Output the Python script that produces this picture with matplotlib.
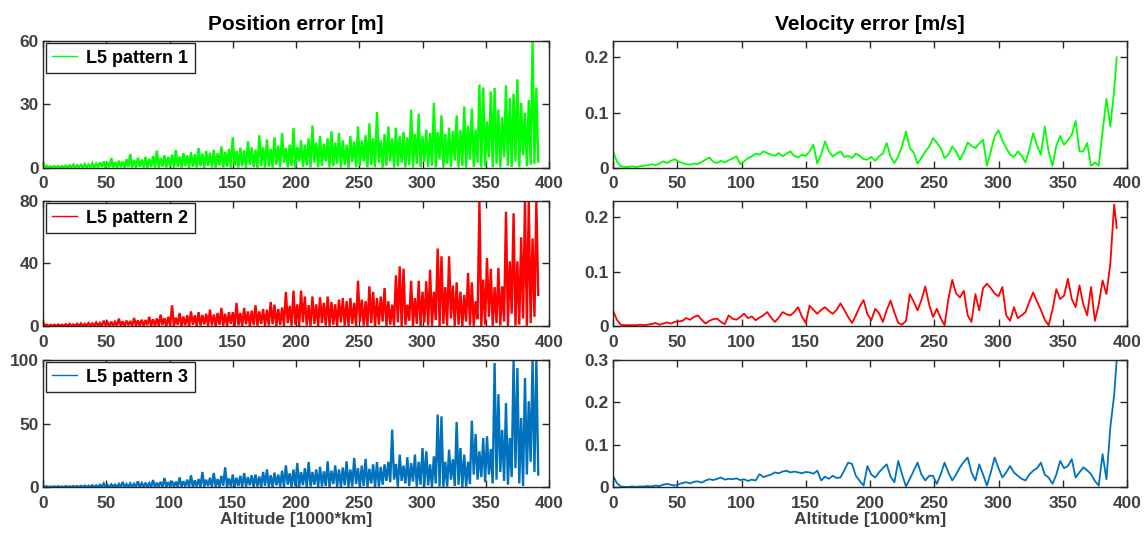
import numpy as np
import matplotlib
matplotlib.use("Agg")
import matplotlib.pyplot as plt

plt.rcParams['font.family'] = ['Liberation Sans', 'DejaVu Sans']
plt.rcParams['font.weight'] = 'bold'

# ---------------- data ----------------
# altitude grid [1000*km], one sample every 3 units
altitude = np.arange(0, 391, 3)
vel_alt = np.append(altitude, 392)

# position error: local maxima (at grid) and local minima (half step later)
pos1_peaks = [2.4, 1.0, 0.8, 0.9, 1.0, 0.9, 1.1, 1.2, 1.6, 1.3,
              1.5, 1.8, 1.6, 2.2, 2.0, 2.6, 3.1, 2.4, 4.7, 2.8,
              3.4, 3.0, 4.2, 6.6, 3.6, 4.8, 4.0, 5.2, 4.4, 5.6,
              8.2, 4.8, 6.0, 5.2, 6.3, 8.5, 5.4, 7.0, 6.0, 7.4,
              6.5, 9.4, 6.8, 8.0, 7.2, 8.6, 7.0, 10.2, 7.6, 9.0,
              14.5, 8.0, 9.6, 8.4, 12.6, 9.7, 8.6, 15.4, 9.8, 13.4,
              9.0, 14.5, 10.5, 16.5, 9.5, 11.0, 18.9, 10.0, 13.0, 11.0,
              14.0, 20.0, 12.0, 15.0, 11.5, 14.0, 17.3, 12.0, 16.5, 13.0,
              11.0, 15.0, 12.5, 19.6, 13.0, 15.5, 21.0, 14.0, 26.4, 13.0,
              16.0, 19.6, 14.0, 19.0, 15.0, 17.0, 14.5, 27.5, 16.0, 25.5,
              15.0, 18.0, 16.5, 30.7, 17.0, 24.8, 16.0, 19.0, 17.5, 24.8,
              18.0, 29.0, 20.0, 28.0, 18.0, 39.3, 38.0, 22.0, 36.0, 37.7,
              27.5, 24.0, 39.0, 33.0, 35.0, 41.8, 30.7, 26.0, 32.0, 60.0,
              37.7]
pos1_troughs = [0.5, 0.2, 0.2, 0.3, 0.2, 0.3, 0.2, 0.3, 0.2, 0.3,
                0.3, 0.2, 0.4, 0.2, 0.3, 0.5, 0.2, 0.4, 0.3, 0.2,
                0.4, 0.2, 0.5, 0.3, 0.2, 0.6, 0.3, 0.2, 0.5, 0.3,
                0.2, 0.6, 0.3, 0.8, 0.2, 0.5, 0.3, 0.9, 0.2, 0.6,
                0.3, 0.8, 0.2, 1.0, 0.4, 0.2, 1.2, 0.3, 0.6, 0.2,
                1.0, 0.3, 0.8, 0.2, 1.5, 0.4, 0.2, 1.0, 0.3, 0.6,
                0.2, 1.5, 0.4, 2.5, 0.3, 1.0, 0.2, 3.0, 0.5, 1.2,
                0.3, 2.5, 0.4, 1.0, 3.0, 0.3, 0.8, 2.0, 0.3, 1.5,
                0.2, 2.8, 0.5, 1.0, 3.0, 0.3, 1.5, 0.4, 2.5, 0.2,
                1.0, 3.0, 0.3, 0.8, 2.5, 0.3, 1.5, 0.2, 2.0, 0.4,
                3.0, 0.5, 1.0, 0.3, 4.0, 0.2, 2.0, 0.5, 3.5, 0.3,
                1.0, 0.2, 4.0, 0.5, 2.5, 0.3, 0.8, 5.0, 0.4, 2.0,
                0.3, 5.0, 1.0, 0.5, 3.0, 0.3, 6.0, 0.8, 1.5, 2.0,
                3.0]

pos2_peaks = [2.8, 1.0, 0.9, 1.0, 1.1, 1.0, 1.3, 1.5, 1.2, 1.6,
              1.8, 1.5, 2.0, 1.8, 2.4, 2.1, 3.6, 2.5, 3.0, 2.8,
              4.9, 3.2, 3.6, 3.4, 5.3, 3.8, 4.2, 4.0, 6.0, 4.5,
              5.0, 7.4, 5.2, 6.0, 13.4, 5.5, 8.5, 6.2, 7.0, 9.5,
              7.0, 9.0, 7.2, 8.0, 10.6, 7.5, 8.5, 11.7, 8.0, 9.0,
              9.0, 14.9, 8.5, 11.7, 9.5, 10.0, 13.4, 9.5, 11.0, 10.6,
              15.5, 13.8, 11.0, 12.0, 21.9, 13.0, 22.7, 14.0, 22.7, 19.0,
              13.5, 19.0, 14.0, 18.5, 15.0, 19.0, 15.5, 14.0, 17.0, 18.0,
              16.0, 18.0, 15.0, 29.0, 17.0, 16.0, 25.5, 21.9, 18.0, 19.0,
              24.4, 16.0, 13.8, 32.5, 38.2, 36.7, 13.8, 29.0, 18.0, 29.0,
              22.0, 28.7, 36.0, 22.0, 49.5, 44.6, 25.0, 44.6, 26.0, 28.0,
              22.0, 20.0, 34.0, 28.0, 16.0, 80.0, 29.7, 43.5, 36.7, 25.0,
              37.2, 25.5, 73.0, 41.4, 72.0, 41.4, 56.7, 80.0, 80.0, 56.0,
              80.0]
pos2_troughs = [0.4, 0.2, 0.3, 0.2, 0.3, 0.2, 0.3, 0.2, 0.2, 0.3,
                0.2, 0.3, 0.4, 0.2, 0.3, 0.2, 0.5, 0.3, 0.2, 0.4,
                0.3, 0.2, 0.6, 0.3, 0.2, 0.4, 0.3, 0.7, 0.2, 0.4,
                0.3, 0.8, 0.2, 0.5, 0.3, 0.9, 0.2, 0.6, 0.3, 1.0,
                0.2, 0.5, 1.2, 0.3, 0.6, 0.2, 1.0, 0.4, 0.3, 1.5,
                0.2, 0.6, 0.3, 1.2, 0.2, 0.8, 0.4, 1.5, 0.3, 0.5,
                1.2, 0.2, 0.8, 0.3, 2.0, 0.4, 1.0, 0.2, 2.5, 0.5,
                0.3, 1.5, 0.2, 2.0, 0.5, 0.3, 1.0, 0.2, 2.5, 0.4,
                0.3, 1.5, 0.2, 3.0, 0.5, 0.3, 2.0, 0.2, 1.0, 3.0,
                0.3, 1.0, 0.4, 2.5, 0.2, 0.8, 3.5, 0.3, 1.5, 0.2,
                2.5, 0.5, 0.3, 4.0, 0.2, 1.5, 0.4, 5.0, 0.3, 1.0,
                0.2, 3.0, 0.5, 0.3, 4.5, 0.2, 1.0, 6.0, 0.3, 2.0,
                0.5, 3.0, 0.2, 8.0, 0.4, 1.0, 5.0, 0.3, 2.0, 6.0,
                20.0]

pos3_peaks = [1.5, 0.8, 0.6, 0.7, 0.8, 0.6, 0.9, 0.8, 1.0, 0.9,
              1.1, 1.3, 1.2, 1.6, 1.4, 1.9, 3.0, 1.8, 2.3, 2.1,
              2.6, 4.2, 2.5, 3.0, 2.8, 4.7, 3.2, 3.6, 3.3, 5.7,
              3.6, 4.3, 7.3, 4.0, 5.0, 4.4, 7.8, 4.8, 6.0, 9.4,
              5.5, 6.5, 12.0, 6.0, 7.5, 11.2, 6.5, 9.0, 15.7, 7.0,
              10.0, 7.5, 9.0, 11.2, 8.0, 9.5, 10.0, 8.5, 12.0, 14.0,
              9.5, 11.5, 10.0, 13.0, 17.2, 11.0, 14.0, 19.0, 12.0, 15.0,
              19.8, 12.0, 14.0, 16.0, 12.5, 20.4, 13.0, 17.2, 14.0, 15.5,
              20.4, 14.0, 23.0, 15.0, 17.0, 22.2, 14.5, 18.0, 19.8, 16.0,
              18.0, 20.0, 45.2, 18.3, 25.6, 17.0, 23.5, 19.0, 25.6, 20.0,
              30.8, 28.2, 18.0, 24.3, 57.0, 55.6, 20.0, 29.5, 22.0, 51.2,
              30.8, 25.6, 20.0, 52.2, 41.8, 28.2, 38.6, 40.0, 30.0, 97.4,
              73.0, 45.0, 66.0, 38.6, 100.0, 93.5, 54.3, 85.6, 67.4, 100.0,
              100.0]
pos3_troughs = [0.3, 0.1, 0.2, 0.1, 0.2, 0.1, 0.2, 0.1, 0.2, 0.1,
                0.2, 0.1, 0.3, 0.2, 0.1, 0.3, 0.2, 0.1, 0.3, 0.2,
                0.3, 0.1, 0.4, 0.2, 0.3, 0.1, 0.5, 0.2, 0.3, 0.1,
                0.5, 0.2, 0.3, 0.6, 0.1, 0.4, 0.2, 0.7, 0.3, 0.1,
                0.6, 0.2, 0.4, 1.0, 0.2, 0.5, 0.3, 1.2, 0.2, 0.6,
                0.3, 1.0, 0.2, 0.5, 1.5, 0.3, 0.6, 0.2, 1.2, 0.4,
                0.2, 1.5, 0.5, 0.3, 2.0, 0.2, 0.8, 0.3, 1.5, 0.2,
                0.6, 2.0, 0.3, 0.5, 1.0, 0.2, 2.5, 0.4, 0.3, 1.5,
                0.3, 0.6, 2.5, 0.2, 1.0, 0.4, 3.0, 0.3, 0.5, 2.0,
                5.0, 4.0, 6.0, 0.5, 5.0, 3.0, 1.0, 4.5, 0.5, 2.0,
                0.5, 1.5, 0.3, 3.0, 0.5, 0.3, 0.5, 6.0, 1.0, 2.0,
                0.3, 0.5, 2.5, 10.0, 6.0, 8.0, 4.0, 10.0, 3.0, 6.0,
                12.0, 5.0, 2.0, 8.0, 15.0, 3.0, 1.0, 10.0, 20.0, 12.0,
                10.0]

# velocity error [m/s]
vel1 = [0.030, 0.012, 0.003, 0.002, 0.002, 0.003, 0.002, 0.003, 0.004, 0.005,
        0.007, 0.005, 0.008, 0.012, 0.009, 0.013, 0.016, 0.012, 0.009, 0.007,
        0.006, 0.008, 0.007, 0.011, 0.015, 0.019, 0.011, 0.009, 0.013, 0.010,
        0.014, 0.017, 0.021, 0.007, 0.012, 0.018, 0.021, 0.026, 0.024, 0.030,
        0.027, 0.024, 0.022, 0.027, 0.021, 0.026, 0.030, 0.022, 0.019, 0.024,
        0.022, 0.030, 0.042, 0.008, 0.025, 0.048, 0.030, 0.021, 0.026, 0.030,
        0.020, 0.022, 0.018, 0.026, 0.022, 0.016, 0.015, 0.020, 0.013, 0.021,
        0.026, 0.045, 0.020, 0.009, 0.021, 0.040, 0.066, 0.036, 0.028, 0.008,
        0.018, 0.030, 0.038, 0.054, 0.046, 0.036, 0.018, 0.024, 0.039, 0.030,
        0.015, 0.028, 0.046, 0.040, 0.036, 0.044, 0.051, 0.004, 0.030, 0.057,
        0.068, 0.050, 0.036, 0.024, 0.020, 0.030, 0.022, 0.010, 0.034, 0.063,
        0.040, 0.024, 0.075, 0.030, 0.004, 0.040, 0.058, 0.042, 0.050, 0.060,
        0.085, 0.030, 0.030, 0.045, 0.004, 0.010, 0.004, 0.066, 0.125, 0.075,
        0.140, 0.200]
vel2 = [0.029, 0.012, 0.003, 0.002, 0.002, 0.002, 0.002, 0.003, 0.002, 0.003,
        0.004, 0.006, 0.003, 0.005, 0.007, 0.005, 0.008, 0.009, 0.010, 0.015,
        0.012, 0.017, 0.020, 0.012, 0.005, 0.010, 0.013, 0.014, 0.008, 0.004,
        0.020, 0.014, 0.012, 0.017, 0.023, 0.015, 0.018, 0.011, 0.016, 0.020,
        0.026, 0.016, 0.008, 0.016, 0.026, 0.022, 0.020, 0.026, 0.035, 0.018,
        0.006, 0.038, 0.030, 0.023, 0.030, 0.035, 0.028, 0.023, 0.030, 0.042,
        0.030, 0.017, 0.006, 0.020, 0.036, 0.048, 0.022, 0.011, 0.032, 0.024,
        0.008, 0.030, 0.047, 0.025, 0.006, 0.003, 0.010, 0.059, 0.045, 0.029,
        0.048, 0.073, 0.040, 0.017, 0.032, 0.015, 0.002, 0.050, 0.085, 0.060,
        0.053, 0.065, 0.020, 0.008, 0.059, 0.029, 0.070, 0.078, 0.070, 0.060,
        0.055, 0.072, 0.020, 0.010, 0.035, 0.015, 0.020, 0.026, 0.045, 0.062,
        0.045, 0.030, 0.012, 0.002, 0.030, 0.068, 0.050, 0.056, 0.087, 0.050,
        0.035, 0.075, 0.040, 0.020, 0.072, 0.010, 0.040, 0.084, 0.059, 0.114,
        0.223, 0.180]
vel3 = [0.027, 0.010, 0.002, 0.001, 0.001, 0.002, 0.001, 0.002, 0.002, 0.003,
        0.002, 0.004, 0.003, 0.006, 0.008, 0.006, 0.004, 0.007, 0.010, 0.012,
        0.009, 0.013, 0.014, 0.011, 0.016, 0.019, 0.017, 0.020, 0.023, 0.018,
        0.020, 0.019, 0.021, 0.017, 0.019, 0.015, 0.018, 0.016, 0.031, 0.024,
        0.027, 0.030, 0.035, 0.033, 0.037, 0.039, 0.035, 0.037, 0.035, 0.033,
        0.036, 0.035, 0.032, 0.039, 0.016, 0.025, 0.020, 0.027, 0.022, 0.023,
        0.040, 0.058, 0.055, 0.027, 0.015, 0.004, 0.050, 0.030, 0.023, 0.035,
        0.045, 0.054, 0.025, 0.012, 0.062, 0.030, 0.002, 0.020, 0.039, 0.058,
        0.030, 0.016, 0.027, 0.027, 0.008, 0.030, 0.058, 0.035, 0.016, 0.030,
        0.047, 0.060, 0.070, 0.035, 0.016, 0.054, 0.030, 0.004, 0.035, 0.070,
        0.045, 0.023, 0.035, 0.050, 0.035, 0.027, 0.020, 0.016, 0.030, 0.039,
        0.045, 0.058, 0.030, 0.023, 0.008, 0.030, 0.062, 0.045, 0.050, 0.066,
        0.023, 0.035, 0.047, 0.040, 0.031, 0.015, 0.004, 0.078, 0.019, 0.140,
        0.217, 0.300]

labels = ["L5 pattern 1", "L5 pattern 2", "L5 pattern 3"]
colors = ["#00ff00", "#ff0000", "#0072bd"]
pos_ylims = [60, 80, 100]
pos_yticks = [[0, 30, 60], [0, 40, 80], [0, 50, 100]]
vel_ylims = [0.23, 0.23, 0.3]
vel_yticks = [[0, 0.1, 0.2], [0, 0.1, 0.2], [0, 0.1, 0.2, 0.3]]
xticks = [0, 50, 100, 150, 200, 250, 300, 350, 400]

pos_peaks = [pos1_peaks, pos2_peaks, pos3_peaks]
pos_troughs = [pos1_troughs, pos2_troughs, pos3_troughs]
vels = [vel1, vel2, vel3]

# ---------------- figure ----------------
W, H = 1145, 533
fig = plt.figure(figsize=(W / 100, H / 100), dpi=100)

left_x0, left_x1 = 43, 549
right_x0, right_x1 = 613, 1127
rows = [(40.7, 168.0), (200.7, 326.3), (359.7, 487.3)]

tick_color = "#404040"


def make_ax(x0, x1, y0, y1):
    return fig.add_axes([x0 / W, 1 - y1 / H, (x1 - x0) / W, (y1 - y0) / H])


def style(ax):
    ax.set_xlim(0, 400)
    ax.set_xticks(xticks)
    ax.tick_params(direction='in', length=5, width=1, top=True, right=True,
                   labelsize=12.5, colors='#262626', labelcolor=tick_color, pad=3)
    ax.tick_params(axis='x', pad=6)
    for lab in ax.get_xticklabels() + ax.get_yticklabels():
        lab.set_fontweight('bold')
    for sp in ax.spines.values():
        sp.set_linewidth(1.0)
        sp.set_color('#262626')


for i in range(3):
    y0, y1 = rows[i]
    # position error
    ax = make_ax(left_x0, left_x1, y0, y1)
    xs = np.column_stack([altitude, altitude + 1.5]).ravel()
    ys = np.column_stack([pos_peaks[i], pos_troughs[i]]).ravel()
    ax.plot(xs, ys, color=colors[i], lw=1.7, label=labels[i],
            solid_joinstyle='miter')
    ax.set_ylim(0, pos_ylims[i])
    ax.set_yticks(pos_yticks[i])
    style(ax)
    leg = ax.legend(loc='upper left', fancybox=False, framealpha=1,
                    edgecolor='#262626', borderaxespad=0.15, handlelength=1.4,
                    handletextpad=0.5, borderpad=0.35,
                    prop={'weight': 'bold', 'size': 13})
    leg.get_frame().set_linewidth(1.0)
    for ln in leg.get_lines():
        ln.set_linewidth(1.0)
    if i == 0:
        ax.set_title("Position error [m]", fontsize=15, fontweight='bold', pad=8)
    if i == 2:
        ax.set_xlabel("Altitude [1000*km]", fontsize=12.5, fontweight='bold',
                      color=tick_color, labelpad=1)

    # velocity error
    ax2 = make_ax(right_x0, right_x1, y0, y1)
    ax2.plot(vel_alt, vels[i], color=colors[i], lw=1.3)
    ax2.set_ylim(0, vel_ylims[i])
    ax2.set_yticks(vel_yticks[i])
    ax2.set_yticklabels([("0" if v == 0 else f"{v:g}") for v in vel_yticks[i]])
    style(ax2)
    if i == 0:
        ax2.set_title("Velocity error [m/s]", fontsize=15, fontweight='bold', pad=8)
    if i == 2:
        ax2.set_xlabel("Altitude [1000*km]", fontsize=12.5, fontweight='bold',
                       color=tick_color, labelpad=1)

fig.savefig("out.png", dpi=100)
